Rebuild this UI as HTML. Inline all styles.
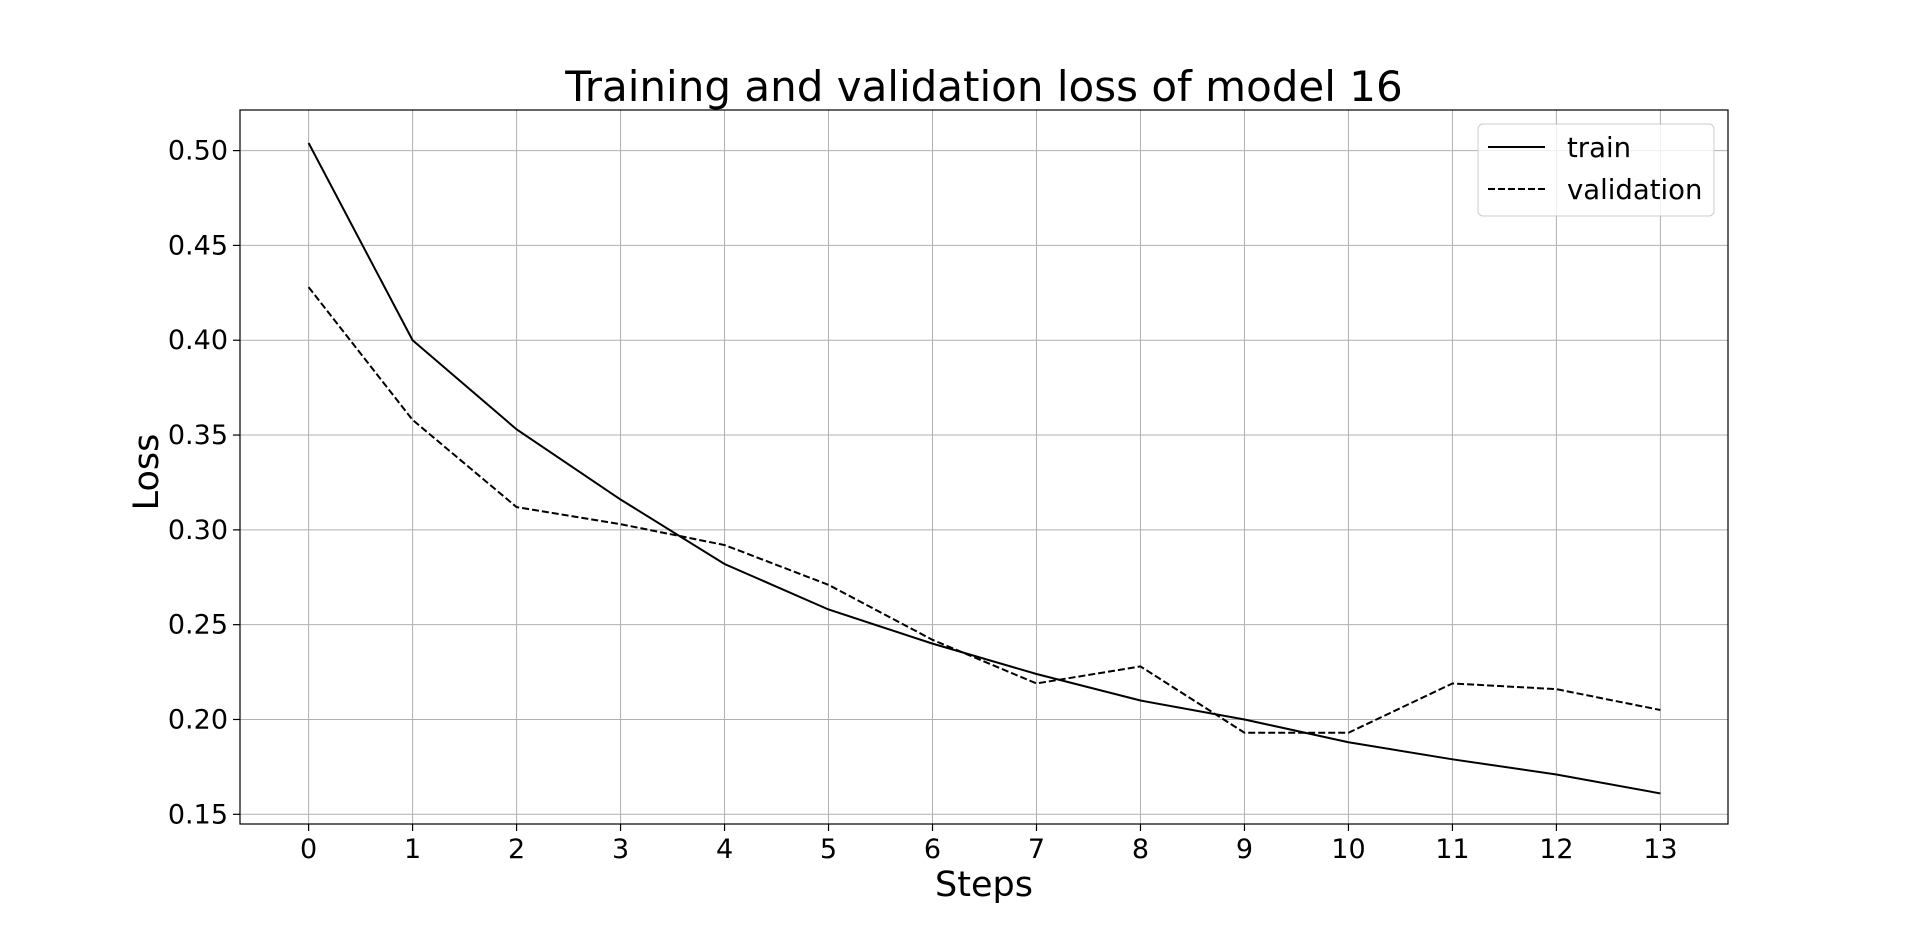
<!DOCTYPE html>
<html><head><meta charset="utf-8"><style>
html,body{margin:0;padding:0;background:#fff;}
svg{display:block;font-family:"DejaVu Sans","Liberation Sans",sans-serif;}
</style></head><body>
<svg id="chart" width="1920" height="927" viewBox="0 0 1920 927" xmlns="http://www.w3.org/2000/svg">
<rect width="1920" height="927" fill="#fff"/>
<text x="984" y="101" font-size="42" text-anchor="middle">Training and validation loss of model 16</text>
<g id="grid"></g>
<g id="series"></g>
<rect x="240" y="110" width="1488" height="714" fill="none" stroke="#000" stroke-width="1.2"/>
<g id="ticks"></g>
<text x="984" y="896" font-size="35" text-anchor="middle">Steps</text>
<text transform="translate(158,472) rotate(-90)" font-size="35" text-anchor="middle">Loss</text>
<g>
<rect x="1478" y="124" width="236" height="92" rx="5" fill="#fff" fill-opacity="0.8" stroke="#ccc"/>
<line x1="1488" y1="147" x2="1545" y2="147" stroke="#000" stroke-width="2"/>
<text x="1567" y="157" font-size="27.5">train</text>
<line x1="1488" y1="189" x2="1545" y2="189" stroke="#000" stroke-width="2" stroke-dasharray="7,3"/>
<text x="1567" y="199" font-size="27.5">validation</text>
</g>
</svg>
<script>
const steps=[0,1,2,3,4,5,6,7,8,9,10,11,12,13];
const trainLoss=[0.504,0.400,0.353,0.316,0.282,0.258,0.240,0.224,0.210,0.200,0.188,0.179,0.171,0.161];
const valLoss=[0.428,0.358,0.312,0.303,0.292,0.271,0.242,0.219,0.228,0.193,0.193,0.219,0.216,0.205];
const yTicks=[0.15,0.20,0.25,0.30,0.35,0.40,0.45,0.50];
const NS="http://www.w3.org/2000/svg";
function xs(v){return 308.6+(v-0)*(1660.4-308.6)/13;}
function ys(v){return 150.6+(0.5-v)*(814.3-150.6)/0.35;}
const grid=document.getElementById('grid'),ticks=document.getElementById('ticks'),series=document.getElementById('series');
function mk(tag,attrs,parent){const e=document.createElementNS(NS,tag);for(const k in attrs)e.setAttribute(k,attrs[k]);parent.appendChild(e);return e;}
steps.forEach(s=>{const x=xs(s);
 const g=mk('line',{x1:x,x2:x,y1:110,y2:824,stroke:'#b0b0b0','stroke-width':1},grid);
 
 
 mk('line',{x1:x,x2:x,y1:824,y2:831,stroke:'#000','stroke-width':1.2},ticks);
 const t=mk('text',{x:x,y:858,'font-size':27,'text-anchor':'middle'},ticks);t.textContent=s;
 
 
});
yTicks.forEach(v=>{const y=ys(v);
 const g=mk('line',{x1:240,x2:1728,y1:y,y2:y,stroke:'#b0b0b0','stroke-width':1},grid);
 
 
 mk('line',{x1:233,x2:240,y1:y,y2:y,stroke:'#000','stroke-width':1.2},ticks);
 const t=mk('text',{x:228,y:y+9,'font-size':27,'text-anchor':'end'},ticks);t.textContent=v.toFixed(2);
 
 
});
function pts(arr){return arr.map((v,i)=>xs(steps[i])+','+ys(v)).join(' ');}
const tl=mk('polyline',{points:pts(trainLoss),fill:'none',stroke:'#000','stroke-width':2},series);


const vl=mk('polyline',{points:pts(valLoss),fill:'none',stroke:'#000','stroke-width':2,'stroke-dasharray':'7,3'},series);


</script>
</body></html>
